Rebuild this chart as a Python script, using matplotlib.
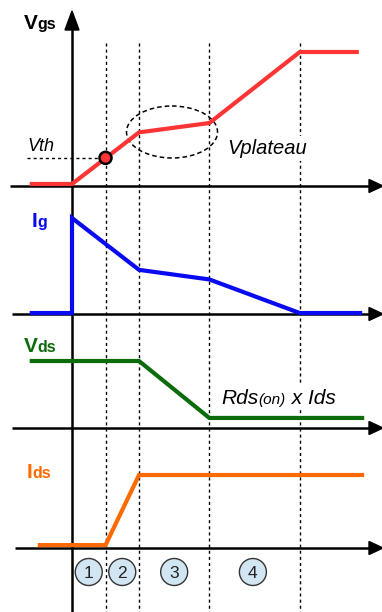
import matplotlib
matplotlib.use("Agg")
import matplotlib.pyplot as plt
from matplotlib.patches import Polygon, Ellipse, Circle

plt.rcParams['font.family'] = ['Liberation Sans', 'DejaVu Sans']

# Switching waveforms, time in arbitrary units (t=0 gate drive starts)
# region boundaries t1..t4
t_marks = [1.0, 2.0, 4.1, 6.8]
region_labels = ["1", "2", "3", "4"]
region_t = [0.5, 1.5, 3.05, 5.4]

vgs_t = [-1.2, 0.0, 2.0, 4.1, 6.8, 8.5]
vgs_v = [0.015, 0.015, 0.40, 0.47, 1.0, 1.0]
vth_t = 1.0
vth_v = 0.21

ig_t = [-1.2, 0.0, 0.0, 2.0, 4.1, 6.8, 8.6]
ig_v = [0.01, 0.01, 1.0, 0.46, 0.36, 0.01, 0.01]

vds_t = [-1.2, 2.0, 4.1, 8.66]
vds_v = [1.0, 1.0, 0.15, 0.15]

ids_t = [-0.96, 1.0, 2.0, 8.66]
ids_v = [0.04, 0.04, 1.0, 1.0]

# layout (pixels)
X0 = 72.0     # x of t=0
KX = 33.5     # pixels per time unit


def px(t):
    return X0 + KX * t


def py(v, base, scale):
    return base - v * scale


fig = plt.figure(figsize=(3.82, 6.12), dpi=100)
ax = fig.add_axes([0, 0, 1, 1])
ax.set_xlim(0, 382)
ax.set_ylim(612, 0)
ax.axis("off")
renderer = fig.canvas.get_renderer()


def rich_text(x, y, parts, **kw):
    # parts: list of (string, fontsize, extra kwargs) drawn one after another
    for s, size, extra in parts:
        opts = dict(kw)
        opts.update(extra)
        t = ax.text(x, y, s, fontsize=size, **opts)
        bb = t.get_window_extent(renderer=renderer)
        x = ax.transData.inverted().transform((bb.x1, bb.y0))[0]
    return x


def harrow(y, x0, tip=383, hl=14, hw=13):
    ax.plot([x0, tip - hl + 1], [y, y], color="black", lw=1.8, solid_capstyle="butt", zorder=3)
    ax.add_patch(Polygon([[tip, y], [tip - hl, y - hw / 2], [tip - hl, y + hw / 2]],
                         closed=True, color="black", zorder=3))


# vertical axis
ax.plot([X0, X0], [612, 28], color="black", lw=1.8, solid_capstyle="butt", zorder=3)
ax.add_patch(Polygon([[X0, 11], [X0 - 7, 30], [X0 + 7, 30]], closed=True, color="black", zorder=3))

# dashed region boundaries
for t in t_marks:
    ax.plot([px(t), px(t)], [43, 612], color="black", lw=1.0,
            linestyle=(0, (2.2, 2.2)), zorder=1)

# --- Vgs panel
base, sc = 186, 134
harrow(base, 10)
ax.plot([px(t) for t in vgs_t], [py(v, base, sc) for v in vgs_v],
        color="#ff3434", lw=3.0, solid_joinstyle="miter", zorder=4)
ax.plot([27, px(vth_t)], [py(vth_v, base, sc)] * 2, color="black", lw=1.0,
        linestyle=(0, (2.2, 2.2)), zorder=2)
ax.add_patch(Circle((px(vth_t), py(vth_v, base, sc)), 6, facecolor="#ff3434",
                    edgecolor="black", lw=1.8, zorder=5))
ax.add_patch(Ellipse((172, 132), 91, 52, fill=False, edgecolor="black", lw=1.1,
                     linestyle=(0, (3, 2)), zorder=2))
bold = dict(fontweight="bold")
rich_text(24, 29, [("V", 15, bold), ("gs", 11.5, bold)], color="black")
ax.text(27, 151, "Vth", fontsize=13, fontstyle="italic", color="black")
ax.text(227, 154, "Vplateau", fontsize=14.5, fontstyle="italic", color="black",
        bbox=dict(facecolor="white", edgecolor="none", pad=2), zorder=6)

# --- Ig panel
base, sc = 314, 96
harrow(base, 12)
ax.plot([px(t) for t in ig_t], [py(v, base, sc) for v in ig_v],
        color="#0a0af0", lw=3.0, solid_joinstyle="miter", zorder=4)
rich_text(32, 227, [("I", 15, bold), ("g", 11.5, bold)], color="#0a0af0")

# --- Vds panel
base, sc = 428, 67
harrow(base, 12)
ax.plot([px(t) for t in vds_t], [py(v, base, sc) for v in vds_v],
        color="#0c6c0c", lw=3.0, solid_joinstyle="miter", zorder=4)
rich_text(24, 352, [("V", 15, bold), ("ds", 11.5, bold)], color="#0c6c0c")
ax.add_patch(plt.Rectangle((218, 384), 124, 26, facecolor="white", edgecolor="none", zorder=5))
rich_text(221, 404, [("Rds", 15, {}), ("(on)", 11, {}), (" x Ids", 15, {})],
          fontstyle="italic", color="black", zorder=6)

# --- Ids panel
base, sc = 548, 73
harrow(base, 15)
ax.plot([px(t) for t in ids_t], [py(v, base, sc) for v in ids_v],
        color="#ff6a00", lw=3.0, solid_joinstyle="miter", zorder=4)
rich_text(27, 478, [("I", 15, bold), ("ds", 11.5, bold)], color="#ff6a00")

# region numbers
for t, lab in zip(region_t, region_labels):
    ax.add_patch(Circle((px(t), 572), 13.5, facecolor="#d2e5f2", edgecolor="#333333",
                        lw=1.0, zorder=5))
    ax.text(px(t), 573, lab, fontsize=12.5, ha="center", va="center", color="#222222", zorder=6)

fig.savefig("out.png", dpi=100)
